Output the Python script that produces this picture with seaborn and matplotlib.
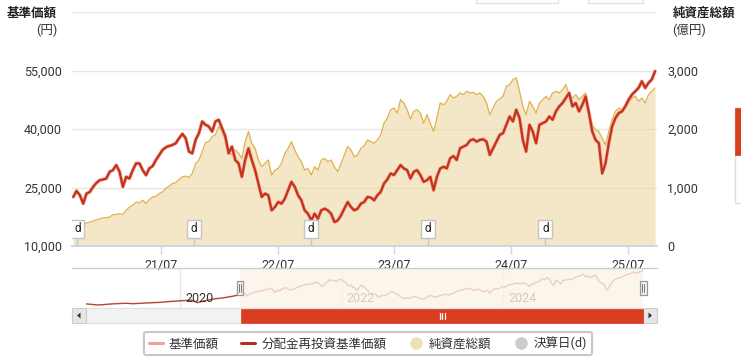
#!/usr/bin/env python3
# -*- coding: utf-8 -*-
"""Fund chart: NAV / reinvested NAV with net assets area and navigator."""

import pandas as pd
import seaborn as sns
import matplotlib.pyplot as plt
import matplotlib.dates as mdates
from matplotlib.patches import Rectangle, Polygon
from matplotlib.lines import Line2D
from matplotlib.ticker import FuncFormatter, FixedLocator

# %% Data

# first / last sample of the visible window (samples are evenly spaced)
str_date_first = '2020-09-30'
str_date_last = '2025-09-23'

# reinvested NAV in yen (same as NAV, no distributions were paid)
lst_price = [22580, 24130, 23010, 20860, 23440, 23870, 25160, 26190, 26880,
             27050, 27310, 29030, 29460, 30750, 29030, 25160, 27740, 27310,
             29460, 31180, 31180, 29460, 28170, 29890, 30490, 32040, 33330,
             34620, 35310, 35650, 35910, 36340, 37630, 38750, 37630, 34190,
             33760, 37200, 38920, 41930, 41070, 40640, 39350, 41930, 42360,
             40210, 38060, 33760, 35480, 32040, 31180, 27740, 32040, 35050,
             32040, 29460, 26020, 22580, 23440, 23010, 19140, 20000, 21290,
             20860, 22150, 24300, 26450, 25160, 23010, 21720, 19140, 18280,
             16560, 18280, 16990, 19140, 19570, 19140, 18280, 16130, 16560,
             17850, 19570, 21290, 20000, 19140, 19570, 20860, 21290,
             22580, 22410, 21720, 23010, 23870, 26020, 27050, 28600, 28170,
             29460, 30750, 29890, 29460, 27310, 29030, 29460, 28170, 26450,
             26880, 27740, 24300, 27740, 29890, 30320, 29890, 32470, 33070,
             32040, 35050, 35480, 35910, 37030, 37370, 36770, 37200, 37370,
             36770, 33330, 35050, 36770, 38490, 38920, 41070, 43220,
             41930, 44940, 42790, 37200, 34190, 41070, 39350, 36340, 41070,
             41500, 41930, 43220, 42360, 44510, 45800, 46660, 47950, 49240,
             45800, 46660, 44510, 46230, 48380, 44080, 39350, 37200, 36340,
             28600, 31180, 36340, 40640, 42790, 44080, 44510, 45800, 47520,
             48810, 49670, 50530, 52250, 50530, 51820, 52680, 54830]

# net assets in 100 million yen
lst_assets = [335, 352, 364, 381, 392, 409, 427, 450, 461, 484, 484, 495, 536,
              541, 553, 541, 610, 667, 696, 753, 736, 782, 725, 793, 839, 851,
              897, 925, 983, 1023, 1069, 1080, 1137, 1183, 1195, 1172, 1240,
              1412, 1470, 1613, 1768, 1785, 1871, 1900, 2043,
              1957, 1814, 1613, 1556, 1642, 1584, 1498, 1785, 1957, 1756, 1670,
              1470, 1355, 1412, 1470, 1212, 1298, 1326, 1412, 1584, 1670, 1785,
              1642, 1527, 1441, 1298, 1326, 1212, 1355, 1298, 1470, 1498, 1441,
              1470, 1355, 1269, 1412, 1556, 1699, 1642, 1527, 1556, 1670, 1710,
              1814, 1785, 1756, 1814, 1900, 2100, 2186, 2329, 2358, 2272, 2501,
              2444, 2329, 2169, 2301, 2329, 2272, 2100, 2243, 2100, 1957, 2186,
              2444, 2415, 2473, 2587, 2530, 2559, 2616, 2587, 2645, 2616, 2627,
              2587, 2616, 2559, 2444, 2243, 2358, 2473, 2513, 2559, 2730, 2759,
              2845, 2874, 2645, 2387, 2243, 2473, 2387, 2272, 2444, 2501, 2559,
              2501, 2616, 2645, 2616, 2673, 2759, 2587, 2530, 2587, 2501, 2559,
              2616, 2301, 2071, 1986, 1957, 1842, 1728, 1957, 2157, 2301, 2358,
              2329, 2358, 2444, 2530, 2559, 2473, 2530, 2444, 2587, 2645, 2702]

# history before the visible window (only shown in the navigator)
lst_pre_dates = ['2018-11-01', '2018-12-25', '2019-03-01', '2019-05-01',
                 '2019-06-01', '2019-08-01', '2019-10-01', '2019-12-01',
                 '2020-01-20', '2020-02-20', '2020-03-19', '2020-04-15',
                 '2020-06-01', '2020-07-15', '2020-09-01']
lst_pre_price = [10000, 8500, 10000, 10800, 10200, 11200, 12000, 13500,
                 14500, 15000, 11500, 13800, 16500, 18000, 20500]

# settlement dates (d flags)
lst_settle = ['2020-10-13', '2021-10-13', '2022-10-13', '2023-10-13',
              '2024-10-15']

# ticks
lst_price_ticks = [10000, 25000, 40000, 55000]
lst_asset_ticks = [0, 1000, 2000, 3000]
lst_xticks = ['2021-07-01', '2022-07-01', '2023-07-01', '2024-07-01',
              '2025-07-01']
lst_nav_years = ['2020', '2022', '2024']

# visible window
str_view_start = '2020-09-26'
str_view_end = '2025-09-29'

# colours
str_col_nav = '#f0a194'
str_col_reinv = '#c4331a'
str_col_area = '#eed7a3'
str_col_area_line = '#e2b04d'
str_col_grid = '#e6e6e6'
str_col_axis = '#ccd6eb'
str_col_text = '#333333'
str_col_red = '#d93e1f'

# %% Prepare frames

df_main = pd.DataFrame({
    'date': pd.date_range(str_date_first, str_date_last,
                          periods=len(lst_price)),
    'price': lst_price,
    'assets': lst_assets})
df_pre = pd.DataFrame({'date': pd.to_datetime(lst_pre_dates),
                       'price': lst_pre_price})
df_full = pd.concat([df_pre, df_main[['date', 'price']]], ignore_index=True)

# %% Plot

sns.set_theme(style='white')
plt.rcParams['font.family'] = ['Roboto', 'Noto Sans CJK JP', 'DejaVu Sans']

W, H = 741, 358
fig = plt.figure(figsize=(W / 100, H / 100), dpi=100)


def fx(px):
    return px / W


def fy(py):
    return 1 - py / H


def rect_px(x0, y0, x1, y1, **kw):
    patch = Rectangle((fx(x0), fy(y1)), (x1 - x0) / W, (y1 - y0) / H,
                      transform=fig.transFigure, **kw)
    fig.add_artist(patch)
    return patch


def line_px(xs, ys, **kw):
    fig.add_artist(Line2D([fx(v) for v in xs], [fy(v) for v in ys],
                          transform=fig.transFigure, **kw))


# main panel: area axis first (right scale), price axis on top (left scale)
ax_area = fig.add_axes([fx(72), fy(246), (657 - 72) / W, (246 - 12) / H])
ax_price = ax_area.twinx()

ax_area.set_axisbelow(True)
ax_area.fill_between(df_main['date'], 0, df_main['assets'],
                     color=str_col_area, alpha=0.6, lw=0, zorder=1)
sns.lineplot(data=df_main, x='date', y='assets', ax=ax_area,
             color=str_col_area_line, lw=0.9, zorder=2)
sns.lineplot(data=df_main, x='date', y='price', ax=ax_price,
             color=str_col_nav, lw=2.5)
sns.lineplot(data=df_main, x='date', y='price', ax=ax_price,
             color=str_col_reinv, lw=1.6)

view = (pd.Timestamp(str_view_start), pd.Timestamp(str_view_end))
ax_area.set_xlim(view)
ax_area.set_ylim(0, 4000)
ax_price.set_ylim(10000, 70000)

ax_area.set_yticks(lst_asset_ticks)
ax_price.set_yticks(lst_price_ticks)
fmt = FuncFormatter(lambda v, p: f'{v:,.0f}')
ax_area.yaxis.set_major_formatter(fmt)
ax_price.yaxis.set_major_formatter(fmt)
ax_area.yaxis.tick_right()
ax_price.yaxis.tick_left()

ax_area.grid(axis='y', color=str_col_grid, lw=1)
ax_area.grid(axis='x', visible=False)
ax_area.axhline(4000, color=str_col_grid, lw=1, zorder=0)

ax_area.xaxis.set_major_locator(
    FixedLocator(mdates.date2num(pd.to_datetime(lst_xticks))))
ax_area.xaxis.set_major_formatter(mdates.DateFormatter('%y/%m'))

for a in (ax_area, ax_price):
    a.set_xlabel('')
    a.set_ylabel('')
    for s in ('left', 'right', 'top'):
        a.spines[s].set_visible(False)
    a.spines['bottom'].set_color(str_col_axis)
    a.tick_params(axis='y', length=0, pad=7.2, labelsize=9,
                  labelcolor=str_col_text)
ax_area.tick_params(axis='x', length=6, width=1, color=str_col_axis,
                    labelsize=9, labelcolor=str_col_text, pad=3,
                    bottom=True)
ax_price.tick_params(axis='x', bottom=False, labelbottom=False)

# settlement flags
trn_flag = ax_price.get_xaxis_transform()
for str_d in lst_settle:
    num_d = mdates.date2num(pd.Timestamp(str_d))
    ax_price.plot([num_d, num_d], [0, 0.034], color='#c0c8d8', lw=1,
                  transform=trn_flag, zorder=5)
    ax_price.add_patch(Rectangle((num_d - 21.9, 0.034), 43.8, 0.077,
                                 transform=trn_flag, fc='white',
                                 ec='#c4c4c4', lw=1, zorder=6))
    ax_price.text(num_d, 0.073, 'd', transform=trn_flag, ha='center',
                  va='center', fontsize=8.5, color='#222222', zorder=7,
                  clip_on=True)

# axis titles
fig.text(fx(7), fy(13.5), '基準価額', ha='left', va='center', fontsize=9,
         weight='bold', color='#222222')
fig.text(fx(57.5), fy(30.5), '(円)', ha='right', va='center', fontsize=9,
         color=str_col_text)
fig.text(fx(672.5), fy(13.5), '純資産総額', ha='left', va='center',
         fontsize=9, weight='bold', color='#222222')
fig.text(fx(672.5), fy(30.5), '(億円)', ha='left', va='center', fontsize=9,
         color=str_col_text)

# %% Navigator

ax_nav = fig.add_axes([fx(86), fy(308), (643 - 86) / W, 40 / H])
sns.lineplot(data=df_full, x='date', y='price', ax=ax_nav,
             color='#b8432c', lw=1.0, zorder=2)
ax_nav.set_xlim(pd.Timestamp(lst_pre_dates[0]), pd.Timestamp(str_date_last))
ax_nav.set_ylim(4530, 57480)
ax_nav.set_xticks([])
ax_nav.set_yticks([])
ax_nav.set_xlabel('')
ax_nav.set_ylabel('')
for s in ax_nav.spines.values():
    s.set_visible(False)
ax_nav.patch.set_alpha(0)
for str_y in lst_nav_years:
    dt_y = pd.Timestamp(str_y + '-01-01')
    ax_nav.axvline(dt_y, color=str_col_grid, lw=1, zorder=1)
    ax_nav.annotate(str_y, xy=(dt_y, 0.24), xycoords=('data', 'axes fraction'),
                    xytext=(3.5, 0), textcoords='offset points', ha='left',
                    va='center', fontsize=9, color=str_col_text, zorder=3)
ax_nav.axvspan(view[0], pd.Timestamp(str_date_last), color='#faf3e8',
               alpha=0.8, lw=0, zorder=5)

line_px([72, 657], [268, 268], color='#cccccc', lw=1)

# handles
for cx in (240, 643):
    rect_px(cx - 3.5, 281, cx + 3.5, 295, fc='#f2f2f2', ec='#999999', lw=0.9)
    line_px([cx - 1, cx - 1], [284, 292], color='#777777', lw=0.7)
    line_px([cx + 1, cx + 1], [284, 292], color='#777777', lw=0.7)

# scrollbar
rect_px(72, 308, 657, 323, fc='#f2f2f2', ec='#e0e0e0', lw=0.8)
rect_px(72, 308, 86, 323, fc='#e6e6e6', ec='#cccccc', lw=0.8)
rect_px(643, 308, 657, 323, fc='#e6e6e6', ec='#cccccc', lw=0.8)
rect_px(241, 308.5, 643, 322.5, fc=str_col_red, ec=str_col_red, lw=0.5)
fig.add_artist(Polygon([(fx(77), fy(315.5)), (fx(80.5), fy(312.5)),
                        (fx(80.5), fy(318.5))], closed=True, fc='#333333',
                       ec='none', transform=fig.transFigure))
fig.add_artist(Polygon([(fx(652), fy(315.5)), (fx(648.5), fy(312.5)),
                        (fx(648.5), fy(318.5))], closed=True, fc='#333333',
                       ec='none', transform=fig.transFigure))
for gx in (439.5, 442, 444.5):
    line_px([gx, gx], [312.5, 318.5], color='white', lw=0.9)

# faint elements cut off at the edges of the screenshot
rect_px(476, -5, 558, 2.5, fc='white', ec='#e2e2e2', lw=1)
rect_px(588, -5, 643, 2.5, fc='white', ec='#e2e2e2', lw=1)
rect_px(734.5, 108, 760, 203, fc='white', ec='#dcdcdc', lw=1)
rect_px(734.5, 108, 760, 155, fc=str_col_red, ec=str_col_red, lw=0.5)

# %% Legend

lst_handles = [
    Line2D([], [], color=str_col_nav, lw=2.2),
    Line2D([], [], color='#b5301c', lw=2.2),
    Line2D([], [], ls='none', marker='o', ms=9, mfc='#f2e0b5', mec='none'),
    Line2D([], [], ls='none', marker='o', ms=9, mfc='#cccccc', mec='none')]
lst_labels = ['基準価額', '分配金再投資基準価額', '純資産総額', '決算日(d)']
leg = fig.legend(lst_handles, lst_labels, loc='center',
                 bbox_to_anchor=(fx(368), fy(343.5)), ncol=4, frameon=True,
                 fancybox=True, fontsize=9, handlelength=1.1,
                 handletextpad=0.5, columnspacing=1.8, borderpad=0.4,
                 edgecolor='#c8c8c8', framealpha=1)
leg.get_frame().set_linewidth(1.5)
for txt in leg.get_texts():
    txt.set_color(str_col_text)

fig.savefig('out.png', dpi=100)
